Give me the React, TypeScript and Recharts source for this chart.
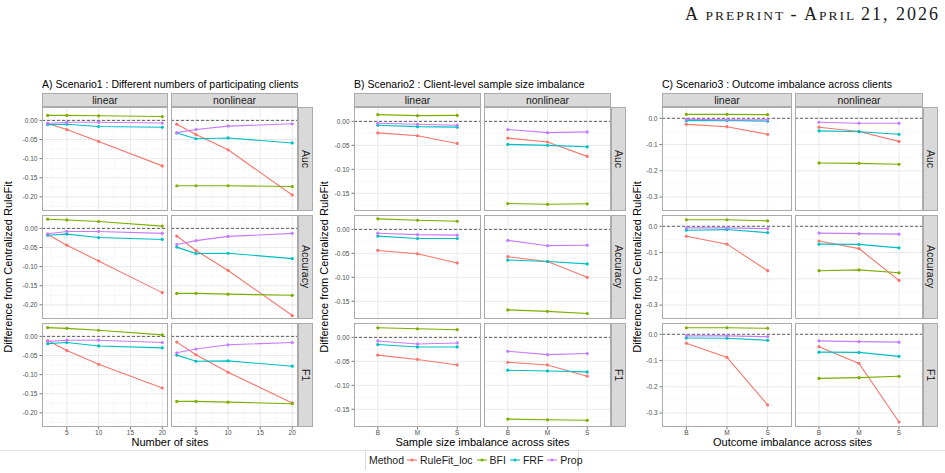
import React from "react";
import { CartesianGrid, Line, LineChart, ReferenceLine, XAxis, YAxis } from "recharts";

const methods = ["RuleFit_loc", "BFI", "FRF", "Prop"];
const methodColors = ["#F8766D", "#7CAE00", "#00BFC4", "#C77CFF"];
const metrics = ["Auc", "Accuracy", "F1"];
const models = ["linear", "nonlinear"];
const sites = [2, 5, 10, 20];
const imbalance = ["B", "M", "S"];

// each block: one row per method (RuleFit_loc, BFI, FRF, Prop)
// scenario 1, columns follow `sites`
const s1LinAuc = [
  [-0.008, -0.024, -0.055, -0.119],
  [0.013, 0.013, 0.012, 0.01],
  [-0.011, -0.01, -0.016, -0.018],
  [-0.008, -0.005, -0.005, -0.007],
];
const s1NonAuc = [
  [-0.01, -0.037, -0.077, -0.195],
  [-0.171, -0.171, -0.171, -0.173],
  [-0.033, -0.048, -0.046, -0.059],
  [-0.032, -0.024, -0.015, -0.009],
];
const s1LinAcc = [
  [-0.016, -0.044, -0.085, -0.168],
  [0.024, 0.022, 0.018, 0.006],
  [-0.018, -0.015, -0.024, -0.029],
  [-0.014, -0.008, -0.008, -0.013],
];
const s1NonAcc = [
  [-0.02, -0.058, -0.11, -0.228],
  [-0.17, -0.17, -0.172, -0.175],
  [-0.049, -0.066, -0.065, -0.079],
  [-0.042, -0.032, -0.021, -0.013],
];
const s1LinF1 = [
  [-0.011, -0.037, -0.073, -0.135],
  [0.023, 0.021, 0.016, 0.004],
  [-0.019, -0.016, -0.025, -0.03],
  [-0.013, -0.01, -0.01, -0.016],
];
const s1NonF1 = [
  [-0.015, -0.048, -0.094, -0.174],
  [-0.17, -0.17, -0.172, -0.176],
  [-0.049, -0.065, -0.064, -0.078],
  [-0.043, -0.033, -0.022, -0.016],
];

// scenario 2, columns follow `imbalance`
const s2LinAuc = [
  [-0.024, -0.03, -0.046],
  [0.014, 0.012, 0.0125],
  [-0.008, -0.011, -0.012],
  [-0.004, -0.006, -0.008],
];
const s2NonAuc = [
  [-0.035, -0.043, -0.073],
  [-0.1715, -0.173, -0.172],
  [-0.048, -0.05, -0.053],
  [-0.017, -0.0235, -0.022],
];
const s2LinAcc = [
  [-0.044, -0.051, -0.07],
  [0.022, 0.019, 0.017],
  [-0.014, -0.019, -0.019],
  [-0.008, -0.011, -0.012],
];
const s2NonAcc = [
  [-0.057, -0.067, -0.1],
  [-0.168, -0.171, -0.1755],
  [-0.064, -0.067, -0.072],
  [-0.023, -0.034, -0.033],
];
const s2LinF1 = [
  [-0.037, -0.046, -0.0575],
  [0.02, 0.018, 0.016],
  [-0.015, -0.02, -0.02],
  [-0.0075, -0.0137, -0.0116],
];
const s2NonF1 = [
  [-0.052, -0.0575, -0.081],
  [-0.1705, -0.172, -0.173],
  [-0.0685, -0.07, -0.072],
  [-0.029, -0.036, -0.0336],
];

// scenario 3, columns follow `imbalance`
const s3LinAuc = [
  [-0.023, -0.032, -0.061],
  [0.015, 0.015, 0.014],
  [-0.009, -0.008, -0.011],
  [-0.004, -0.006, -0.006],
];
const s3NonAuc = [
  [-0.034, -0.05, -0.088],
  [-0.17, -0.1715, -0.175],
  [-0.048, -0.051, -0.061],
  [-0.015, -0.019, -0.019],
];
const s3LinAcc = [
  [-0.038, -0.068, -0.169],
  [0.025, 0.025, 0.021],
  [-0.015, -0.0125, -0.024],
  [-0.006, -0.006, -0.009],
];
const s3NonAcc = [
  [-0.056, -0.085, -0.206],
  [-0.169, -0.166, -0.177],
  [-0.068, -0.069, -0.082],
  [-0.026, -0.028, -0.03],
];
const s3LinF1 = [
  [-0.034, -0.088, -0.269],
  [0.025, 0.025, 0.023],
  [-0.014, -0.015, -0.023],
  [-0.006, -0.006, -0.009],
];
const s3NonF1 = [
  [-0.047, -0.111, -0.334],
  [-0.168, -0.165, -0.16],
  [-0.068, -0.069, -0.084],
  [-0.025, -0.028, -0.03],
];

const FONT = "'Liberation Sans', Arial, Helvetica, sans-serif";
const rowsY = [
  [107, 211],
  [215, 319],
  [323, 427],
];
const stripTop = 93;

type Scenario = {
  title: string;
  xTitle: string;
  xs: number[];
  xDomain: [number, number];
  xTicks: number[];
  xMinor: number[];
  xFmt: (v: number) => string;
  yDomain: [number, number];
  yTicks: number[];
  yMinor: number[];
  digits: number;
  cols: number[][];
  strip: number[];
  yTitleX: number;
  values: number[][][][];
};

const catIdx = imbalance.map((_, i) => i + 1);
const catFmt = (v: number) => imbalance[v - 1] ?? "";

const scenarios: Scenario[] = [
  {
    title: "A) Scenario1 : Different numbers of participating clients",
    xTitle: "Number of sites",
    xs: sites,
    xDomain: [1.1, 20.9],
    xTicks: [5, 10, 15, 20],
    xMinor: [2.5, 7.5, 12.5, 17.5],
    xFmt: (v) => String(v),
    yDomain: [-0.237, 0.035],
    yTicks: [0, -0.05, -0.1, -0.15, -0.2],
    yMinor: [0.025, -0.025, -0.075, -0.125, -0.175, -0.225],
    digits: 2,
    cols: [
      [42, 168],
      [171, 298],
    ],
    strip: [298, 313],
    yTitleX: 8,
    values: [
      [s1LinAuc, s1NonAuc],
      [s1LinAcc, s1NonAcc],
      [s1LinF1, s1NonF1],
    ],
  },
  {
    title: "B) Scenario2 : Client-level sample size imbalance",
    xTitle: "Sample size imbalance across sites",
    xs: catIdx,
    xDomain: [0.4, 3.6],
    xTicks: catIdx,
    xMinor: [],
    xFmt: catFmt,
    yDomain: [-0.187, 0.03],
    yTicks: [0, -0.05, -0.1, -0.15],
    yMinor: [0.025, -0.025, -0.075, -0.125, -0.175],
    digits: 2,
    cols: [
      [354, 481],
      [484, 611],
    ],
    strip: [611, 626],
    yTitleX: 324,
    values: [
      [s2LinAuc, s2NonAuc],
      [s2LinAcc, s2NonAcc],
      [s2LinF1, s2NonF1],
    ],
  },
  {
    title: "C) Scenario3 : Outcome imbalance across clients",
    xTitle: "Outcome imbalance across sites",
    xs: catIdx,
    xDomain: [0.4, 3.6],
    xTicks: catIdx,
    xMinor: [],
    xFmt: catFmt,
    yDomain: [-0.353, 0.043],
    yTicks: [0, -0.1, -0.2, -0.3],
    yMinor: [-0.05, -0.15, -0.25, -0.35],
    digits: 1,
    cols: [
      [662, 792],
      [795, 923],
    ],
    strip: [923, 938],
    yTitleX: 637,
    values: [
      [s3LinAuc, s3NonAuc],
      [s3LinAcc, s3NonAcc],
      [s3LinF1, s3NonF1],
    ],
  },
];

const Y_AXIS_W = 28;
const X_AXIS_H = 11;
const tickStyle = { fontSize: 6.5, fill: "#4D4D4D", fontFamily: FONT };

function Panel({ sc, row, col }: { sc: Scenario; row: number; col: number }) {
  const [x0, x1] = sc.cols[col];
  const [y0, y1] = rowsY[row];
  const showY = col === 0;
  const showX = row === 2;
  const yW = showY ? Y_AXIS_W : 0;
  const xH = showX ? X_AXIS_H : 0;
  const block = sc.values[row][col];
  const data = sc.xs.map((x, i) => {
    const r: Record<string, number> = { x };
    methods.forEach((m, k) => {
      r[m] = block[k][i];
    });
    return r;
  });

  return (
    <>
      <div style={{ position: "absolute", left: x0 - yW, top: y0 }}>
        <LineChart
          width={x1 - x0 + yW}
          height={y1 - y0 + xH}
          data={data}
          margin={{ top: 0, right: 0, bottom: 0, left: 0 }}
        >
          <XAxis
            type="number"
            dataKey="x"
            domain={sc.xDomain}
            ticks={sc.xTicks}
            interval={0}
            allowDataOverflow
            hide={!showX}
            height={X_AXIS_H}
            tickFormatter={sc.xFmt}
            tick={tickStyle}
            tickSize={2.5}
            tickMargin={1}
            tickLine={{ stroke: "#777" }}
            axisLine={false}
          />
          <YAxis
            type="number"
            domain={sc.yDomain}
            ticks={sc.yTicks}
            interval={0}
            allowDataOverflow
            hide={!showY}
            width={Y_AXIS_W}
            tickFormatter={(v: number) => v.toFixed(sc.digits)}
            tick={tickStyle}
            tickSize={2.5}
            tickMargin={2}
            tickLine={{ stroke: "#777" }}
            axisLine={false}
          />
          <CartesianGrid
            horizontalValues={sc.yMinor}
            verticalValues={sc.xMinor.length ? sc.xMinor : undefined}
            vertical={sc.xMinor.length > 0}
            stroke="#F3F3F3"
            strokeWidth={0.6}
          />
          <CartesianGrid
            horizontalValues={sc.yTicks}
            verticalValues={sc.xTicks}
            stroke="#E6E6E6"
            strokeWidth={0.9}
          />
          <ReferenceLine y={0} stroke="#3A3A3A" strokeWidth={0.8} strokeDasharray="3 2" />
          {methods.map((m, k) => (
            <Line
              key={m}
              dataKey={m}
              type="linear"
              stroke={methodColors[k]}
              strokeWidth={1.1}
              dot={{ r: 1.6, fill: methodColors[k], stroke: methodColors[k], strokeWidth: 0 }}
              activeDot={false}
              isAnimationActive={false}
            />
          ))}
        </LineChart>
      </div>
      <div
        style={{
          position: "absolute",
          left: x0,
          top: y0,
          width: x1 - x0,
          height: y1 - y0,
          border: "1px solid #ABABAB",
          boxSizing: "border-box",
          pointerEvents: "none",
        }}
      />
    </>
  );
}

const stripBox: React.CSSProperties = {
  position: "absolute",
  background: "#D9D9D9",
  border: "1px solid #ABABAB",
  boxSizing: "border-box",
  display: "flex",
  alignItems: "center",
  justifyContent: "center",
  fontFamily: FONT,
  fontSize: 10.5,
  color: "#1A1A1A",
};

function ScenarioBlock({ sc }: { sc: Scenario }) {
  const [left] = sc.cols[0];
  const right = sc.cols[1][1];
  return (
    <>
      <div
        style={{
          position: "absolute",
          left,
          top: 77,
          fontFamily: FONT,
          fontSize: 10.5,
          lineHeight: "14px",
          whiteSpace: "nowrap",
          color: "#000",
        }}
      >
        {sc.title}
      </div>
      {models.map((mdl, c) => (
        <div
          key={mdl}
          style={{
            ...stripBox,
            left: sc.cols[c][0],
            top: stripTop,
            width: sc.cols[c][1] - sc.cols[c][0],
            height: rowsY[0][0] - stripTop,
          }}
        >
          {mdl}
        </div>
      ))}
      {metrics.map((met, r) => (
        <div
          key={met}
          style={{
            ...stripBox,
            left: sc.strip[0],
            top: rowsY[r][0],
            width: sc.strip[1] - sc.strip[0],
            height: rowsY[r][1] - rowsY[r][0],
            writingMode: "vertical-rl",
          }}
        >
          {met}
        </div>
      ))}
      {metrics.map((met, r) =>
        models.map((mdl, c) => <Panel key={met + mdl} sc={sc} row={r} col={c} />)
      )}
      <div
        style={{
          position: "absolute",
          left: sc.yTitleX,
          top: (rowsY[0][0] + rowsY[2][1]) / 2,
          transform: "translate(-50%, -50%) rotate(-90deg)",
          fontFamily: FONT,
          fontSize: 11,
          whiteSpace: "nowrap",
          color: "#000",
        }}
      >
        Difference from Centralized RuleFit
      </div>
      <div
        style={{
          position: "absolute",
          left: (left + right) / 2,
          top: 435,
          transform: "translateX(-50%)",
          fontFamily: FONT,
          fontSize: 11,
          lineHeight: "14px",
          whiteSpace: "nowrap",
          color: "#000",
        }}
      >
        {sc.xTitle}
      </div>
    </>
  );
}

function LegendKey({ color }: { color: string }) {
  return (
    <svg width={12} height={10} style={{ display: "block" }}>
      <line x1={1} y1={5} x2={11} y2={5} stroke={color} strokeWidth={1.1} />
      <circle cx={6} cy={5} r={1.6} fill={color} />
    </svg>
  );
}

export default function App() {
  return (
    <div
      style={{
        position: "absolute",
        left: 0,
        top: 0,
        width: 945,
        height: 473,
        background: "#fff",
        overflow: "hidden",
      }}
    >
      <svg width={945} height={30} style={{ position: "absolute", left: 0, top: 0 }}>
        <text
          x={685}
          y={19.5}
          textLength={253}
          lengthAdjust="spacing"
          fontFamily="'Liberation Serif', 'Times New Roman', serif"
          fill="#1A1A1A"
        >
          <tspan fontSize={18}>A </tspan>
          <tspan fontSize={13.5}>PREPRINT </tspan>
          <tspan fontSize={18}>- A</tspan>
          <tspan fontSize={13.5}>PRIL </tspan>
          <tspan fontSize={18}>21, 2026</tspan>
        </text>
      </svg>

      {scenarios.map((sc) => (
        <ScenarioBlock key={sc.title} sc={sc} />
      ))}

      <div
        style={{
          position: "absolute",
          left: 0,
          top: 450,
          width: 945,
          height: 0,
          borderTop: "1px solid #E3E3E3",
        }}
      />
      <div
        style={{
          position: "absolute",
          left: 365,
          top: 450,
          width: 214,
          height: 20,
          borderLeft: "1px solid #DADADA",
          borderRight: "1px solid #DADADA",
          boxSizing: "border-box",
          display: "flex",
          alignItems: "center",
          paddingLeft: 3,
          fontFamily: FONT,
          fontSize: 10.5,
          color: "#1A1A1A",
          whiteSpace: "nowrap",
        }}
      >
        <span style={{ marginRight: 2 }}>Method</span>
        {methods.map((m, k) => (
          <span key={m} style={{ display: "flex", alignItems: "center", marginRight: 3 }}>
            <LegendKey color={methodColors[k]} />
            <span style={{ marginLeft: 2 }}>{m}</span>
          </span>
        ))}
      </div>
    </div>
  );
}
